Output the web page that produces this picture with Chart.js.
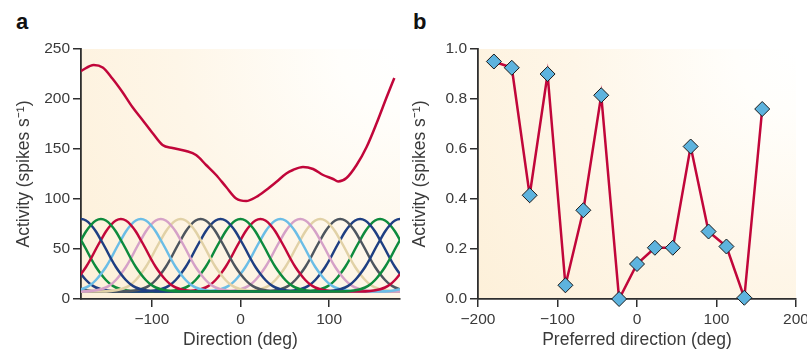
<!DOCTYPE html>
<html>
<head>
<meta charset="utf-8">
<script src="https://cdn.jsdelivr.net/npm/chart.js@4.4.1/dist/chart.umd.min.js"></script>
<style>
  html, body { margin: 0; padding: 0; background: #fff; overflow: hidden; width: 807px; height: 350px; }
  .panel { position: absolute; top: 0; }
  .tag { position: absolute; font: bold 22px "Liberation Sans", Arial, sans-serif; line-height: 22px; color: #111; }
</style>
</head>
<body>
<div class="tag" style="left:16px; top:11px">a</div>
<div class="tag" style="left:413px; top:11px">b</div>
<canvas id="chartA" class="panel" width="410" height="360" style="left:0"></canvas>
<canvas id="chartB" class="panel" width="420" height="360" style="left:400px"></canvas>
<script>
// preferred directions of the 16 cells (deg)
const prefDirs = [-180, -157.5, -135, -112.5, -90, -67.5, -45, -22.5, 0, 22.5, 45, 67.5, 90, 112.5, 135, 157.5];
const cellColors = ['#1f3f82', '#0e8b3d', '#c2073b', '#6bbde6', '#d5a1c7', '#e1d1a6', '#4e565f'];

// shape of one tuning curve (offset from preferred direction -> spikes/s)
const tuneOffsets = [-180, -90, -78.75, -67.5, -61.875, -56.25, -50.625, -45, -39.375, -33.75, -28.125, -22.5, -16.875, -11.25, -5.625,
  0, 5.625, 11.25, 16.875, 22.5, 28.125, 33.75, 39.375, 45, 50.625, 56.25, 61.875, 67.5, 78.75, 90];
const tuneRates = [7.5, 7.5, 8, 9.8, 11.5, 14.5, 19, 25, 32, 40.5, 50, 59, 67.5, 74, 78.5,
  80, 78.5, 74, 67.5, 59, 50, 40.5, 32, 25, 19, 14.5, 11.5, 9.8, 8, 7.5];

// summed population response (panel a, red)
const popDirs = [-180, -165.6, -155.5, -144.6, -133.3, -122, -110.6, -99.3, -88, -76.7, -61.5, -50.2, -38.8, -27.5, -16.2, -4.9,
  6.4, 17.7, 29, 40.3, 51.7, 59.2, 70.5, 81.9, 93.2, 104.5, 110.2, 119.6, 131, 142.3, 153.7, 165, 173.6];
const popRates = [228, 234, 231.5, 220.5, 207, 192, 179, 166, 154, 151, 148, 144, 134, 124, 112, 100.5,
  98, 102, 109, 117, 125.5, 129, 132, 130, 124, 120, 117.5, 121, 134, 152, 176, 202, 221];

// panel b: activity of each cell
const cellActivity = [0.95, 0.925, 0.415, 0.9, 0.055, 0.355, 0.815, 0.0, 0.14, 0.205, 0.205, 0.61, 0.27, 0.21, 0.005, 0.76];

const ticksAx = [-100, 0, 100];
const ticksAy = [0, 50, 100, 150, 200, 250];
const ticksBx = [-200, -100, 0, 100, 200];
const ticksBy = [0, 0.2, 0.4, 0.6, 0.8, 1.0];

const red = '#c1063a';
const ink = '#2e2e2e';
const tickFont = { family: "'Liberation Sans', Arial, sans-serif", size: 15.5 };
const titleFont = { family: "'Liberation Sans', Arial, sans-serif", size: 17.5 };
const minus = v => v < 0 ? '\u2212' + Math.abs(v) : String(v);

// cream background fading to white towards the top right
const areaFill = {
  id: 'areaFill',
  beforeDraw(chart) {
    const { ctx, chartArea: a } = chart;
    const g = ctx.createRadialGradient(a.right, a.top, 0, a.right, a.top, Math.hypot(a.width, a.height));
    g.addColorStop(0, '#ffffff');
    g.addColorStop(0.15, '#fffefb');
    g.addColorStop(0.55, '#fef6e8');
    g.addColorStop(1, '#fdf0d9');
    ctx.save();
    ctx.fillStyle = g;
    ctx.fillRect(a.left, a.top, a.width, a.height);
    ctx.restore();
  }
};

function axis(min, max, tickList, fmt, title, fitFn, titlePad) {
  return {
    type: 'linear', min, max,
    afterBuildTicks: s => { s.ticks = tickList.map(v => ({ value: v })); },
    afterFit: fitFn,
    grid: { drawOnChartArea: false, drawTicks: true, tickLength: 8, color: ink, lineWidth: 1.5 },
    border: { display: true, color: ink, width: 1.8 },
    ticks: { font: tickFont, color: '#3a3a3a', padding: 3, callback: fmt },
    title: { display: true, text: title, font: titleFont, color: '#3a3a3a', padding: titlePad }
  };
}

// each cell's tuning curve, laid around the circle
const cellSets = prefDirs.map((p, i) => {
  const pts = [];
  [-360, 0, 360].forEach(shift => {
    tuneOffsets.forEach((o, j) => pts.push({ x: p + o + shift, y: tuneRates[j] }));
  });
  return {
    data: pts,
    borderColor: cellColors[i % cellColors.length],
    borderWidth: 2.5,
    pointRadius: 0,
    cubicInterpolationMode: 'monotone',
    order: i === 1 ? 1 : 2 + i
  };
});

new Chart(document.getElementById('chartA'), {
  type: 'line',
  data: {
    datasets: [{
      data: popDirs.map((d, i) => ({ x: d, y: popRates[i] })),
      borderColor: red,
      borderWidth: 2.5,
      pointRadius: 0,
      cubicInterpolationMode: 'monotone',
      order: 0
    }].concat(cellSets)
  },
  options: {
    responsive: false,
    animation: false,
    events: [],
    layout: { padding: { left: 0, top: 49, right: 10, bottom: 0 } },
    plugins: { legend: { display: false }, tooltip: { enabled: false } },
    scales: {
      x: axis(-180, 180, ticksAx, v => minus(v), 'Direction (deg)', s => { s.height = 61; }, { top: 0, bottom: 9 }),
      y: axis(0, 250, ticksAy, v => String(v), 'Activity (spikes s\u207B\u00B9)', s => { s.width = 81; }, { top: 14, bottom: 0 })
    }
  },
  plugins: [areaFill]
});

new Chart(document.getElementById('chartB'), {
  type: 'line',
  data: {
    datasets: [{
      data: prefDirs.map((d, i) => ({ x: d, y: cellActivity[i] })),
      borderColor: red,
      borderWidth: 2.5,
      pointStyle: 'rectRot',
      pointRadius: 7.5,
      pointBackgroundColor: '#5db3de',
      pointBorderColor: '#1a1a1a',
      pointBorderWidth: 1,
      tension: 0,
      clip: false
    }]
  },
  options: {
    responsive: false,
    animation: false,
    events: [],
    layout: { padding: { left: 0, top: 49, right: 24, bottom: 0 } },
    plugins: { legend: { display: false }, tooltip: { enabled: false } },
    scales: {
      x: axis(-200, 200, ticksBx, v => minus(v), 'Preferred direction (deg)', s => { s.height = 61; }, { top: 0, bottom: 9 }),
      y: axis(0, 1, ticksBy, v => v.toFixed(1), 'Activity (spikes s\u207B\u00B9)', s => { s.width = 78; }, { top: 10, bottom: 0 })
    }
  },
  plugins: [areaFill]
});
</script>
</body>
</html>
